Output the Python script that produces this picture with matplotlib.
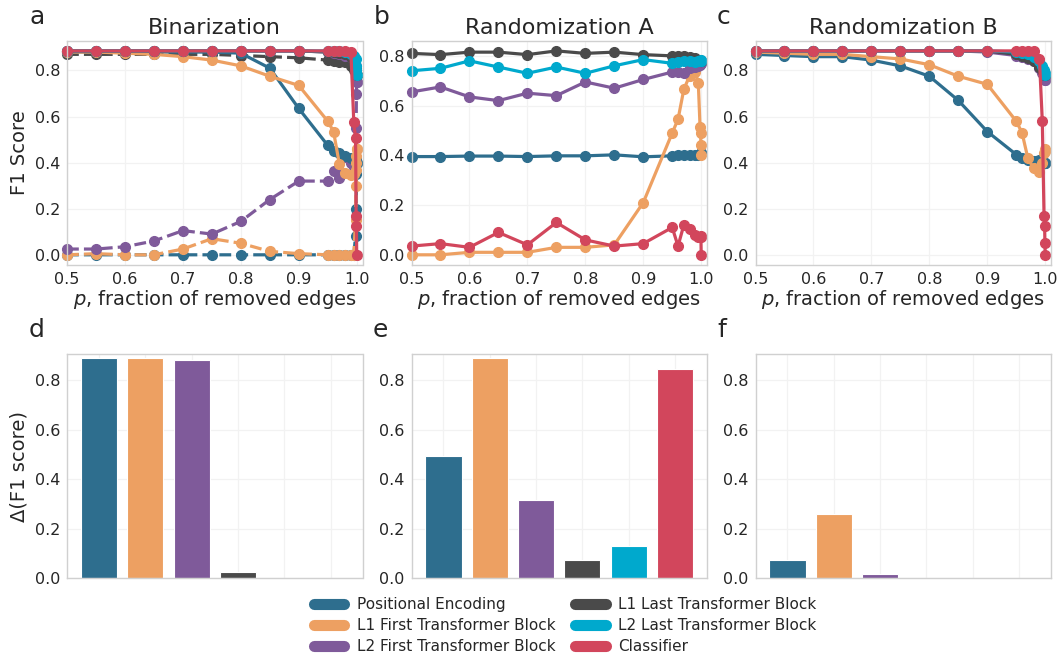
import matplotlib
matplotlib.use("Agg")
import matplotlib.pyplot as plt
from matplotlib.lines import Line2D

# ---------------- data ----------------
layers = ["Positional Encoding", "L1 First Transformer Block", "L2 First Transformer Block",
          "L1 Last Transformer Block", "L2 Last Transformer Block", "Classifier"]
colors = ["#2e6e8e", "#eda062", "#7f5a9a", "#4a4a4a", "#00a9cd", "#d2465c"]

p = [0.5, 0.55, 0.6, 0.65, 0.7, 0.75, 0.8, 0.85, 0.9, 0.95,
     0.96, 0.97, 0.98, 0.99, 0.995, 0.998, 0.999, 0.9995, 1.0]

# Panel a: Binarization (solid)
a_pe = [0.88, 0.88, 0.88, 0.88, 0.88, 0.88, 0.875, 0.81, 0.635, 0.475, 0.45, 0.44, 0.43, 0.42, 0.42, 0.41, 0.40, 0.40, 0.40]
a_l1f = [0.88, 0.88, 0.875, 0.87, 0.86, 0.845, 0.82, 0.775, 0.735, 0.58, 0.535, 0.395, 0.355, 0.345, 0.35, 0.37, 0.40, 0.43, 0.46]
a_l2f = [0.885, 0.885, 0.885, 0.885, 0.885, 0.885, 0.885, 0.885, 0.885, 0.88, 0.875, 0.87, 0.865, 0.86, 0.84, 0.82, 0.80, 0.77, 0.75]
a_l1l = [0.885, 0.885, 0.885, 0.885, 0.885, 0.885, 0.885, 0.885, 0.885, 0.88, 0.88, 0.875, 0.87, 0.86, 0.83, 0.81, 0.80, 0.79, 0.78]
a_l2l = [0.885, 0.885, 0.885, 0.885, 0.885, 0.885, 0.885, 0.885, 0.885, 0.885, 0.885, 0.885, 0.88, 0.87, 0.865, 0.85, 0.82, 0.80, 0.78]
a_cls = [0.885, 0.885, 0.885, 0.885, 0.885, 0.885, 0.885, 0.885, 0.885, 0.885, 0.885, 0.885, 0.885, 0.88, 0.575, 0.505, 0.17, 0.125, 0.0]
# Panel a: Binarization (dashed)
a_pe_d = [0.0, 0.0, 0.0, 0.0, 0.0, 0.0, 0.0, 0.0, 0.0, 0.0, 0.0, 0.0, 0.0, 0.0, 0.0, 0.08, 0.2, 0.35, 0.40]
a_l1f_d = [0.0, 0.005, 0.0, 0.0, 0.025, 0.07, 0.05, 0.015, 0.005, 0.0, 0.0, 0.0, 0.0, 0.0, 0.0, 0.15, 0.3, 0.42, 0.46]
a_l2f_d = [0.025, 0.025, 0.035, 0.06, 0.105, 0.09, 0.145, 0.24, 0.32, 0.32, 0.365, 0.335, 0.425, 0.40, 0.38, 0.40, 0.55, 0.70, 0.75]
a_l1l_d = [0.87, 0.87, 0.87, 0.87, 0.87, 0.87, 0.865, 0.86, 0.855, 0.845, 0.84, 0.835, 0.835, 0.82, 0.80, 0.80, 0.79, 0.78, 0.78]

# Panel b: Randomization A
b_pe = [0.395, 0.395, 0.397, 0.397, 0.395, 0.398, 0.398, 0.402, 0.394, 0.398, 0.40, 0.40, 0.40, 0.40, 0.40, 0.405, 0.41, 0.41, 0.41]
b_l1f = [0.0, 0.0, 0.01, 0.01, 0.01, 0.03, 0.03, 0.04, 0.21, 0.49, 0.545, 0.665, 0.72, 0.735, 0.69, 0.515, 0.49, 0.44, 0.40]
b_l2f = [0.655, 0.675, 0.635, 0.62, 0.65, 0.64, 0.695, 0.67, 0.705, 0.735, 0.735, 0.73, 0.75, 0.755, 0.76, 0.765, 0.77, 0.77, 0.77]
b_l1l = [0.81, 0.805, 0.815, 0.815, 0.805, 0.82, 0.81, 0.815, 0.805, 0.80, 0.80, 0.80, 0.795, 0.79, 0.785, 0.785, 0.78, 0.78, 0.78]
b_l2l = [0.74, 0.75, 0.78, 0.755, 0.73, 0.755, 0.73, 0.76, 0.785, 0.77, 0.775, 0.78, 0.78, 0.775, 0.78, 0.78, 0.785, 0.78, 0.78]
b_cls = [0.035, 0.045, 0.03, 0.09, 0.04, 0.13, 0.06, 0.035, 0.045, 0.11, 0.035, 0.12, 0.105, 0.08, 0.07, 0.07, 0.075, 0.07, 0.0]

# Panel c: Randomization B
c_pe = [0.87, 0.865, 0.86, 0.86, 0.845, 0.82, 0.775, 0.67, 0.535, 0.435, 0.42, 0.41, 0.405, 0.41, 0.405, 0.40, 0.40, 0.40, 0.40]
c_l1f = [0.88, 0.875, 0.87, 0.87, 0.86, 0.85, 0.825, 0.775, 0.74, 0.58, 0.53, 0.42, 0.375, 0.36, 0.40, 0.44, 0.46, 0.45, 0.45]
c_l2f = [0.885, 0.885, 0.885, 0.885, 0.885, 0.885, 0.885, 0.885, 0.88, 0.865, 0.86, 0.85, 0.84, 0.81, 0.79, 0.78, 0.77, 0.76, 0.76]
c_l1l = [0.885, 0.885, 0.885, 0.885, 0.885, 0.885, 0.885, 0.885, 0.885, 0.87, 0.865, 0.855, 0.84, 0.815, 0.80, 0.79, 0.785, 0.78, 0.78]
c_l2l = [0.885, 0.885, 0.885, 0.885, 0.885, 0.885, 0.885, 0.885, 0.885, 0.88, 0.875, 0.87, 0.86, 0.84, 0.82, 0.80, 0.79, 0.785, 0.78]
c_cls = [0.885, 0.885, 0.885, 0.885, 0.885, 0.885, 0.885, 0.885, 0.885, 0.885, 0.885, 0.885, 0.885, 0.85, 0.58, 0.17, 0.125, 0.05, 0.0]

# Bar panels: Δ(F1 score)
d_vals = [0.887, 0.887, 0.879, 0.024, 0.0, 0.0]
e_vals = [0.493, 0.887, 0.314, 0.074, 0.130, 0.844]
f_vals = [0.074, 0.258, 0.016, 0.0, 0.0, 0.0]

titles = ["Binarization", "Randomization A", "Randomization B"]
panel_letters = ["a", "b", "c", "d", "e", "f"]

# ---------------- style ----------------
TXT = "#262626"
plt.rcParams.update({
    "font.family": "DejaVu Sans",
    "text.color": TXT,
    "axes.labelcolor": TXT,
    "xtick.color": TXT,
    "ytick.color": TXT,
    "axes.edgecolor": "#d0d0d0",
    "axes.linewidth": 1.0,
    "xtick.labelsize": 11.5,
    "ytick.labelsize": 11.5,
})

fig = plt.figure(figsize=(10.58, 6.56), dpi=100)
W, H = 1058, 656
lefts = [67, 411.5, 755.5]
aw = 295.5
top_rows = (40.7, 265)
bot_rows = (354, 578.3)


def add_ax(lx, row):
    t, b = row
    return fig.add_axes([lx / W, 1 - b / H, aw / W, (b - t) / H])


def style(ax):
    ax.set_facecolor("white")
    ax.grid(True, color="#f2f2f2", linewidth=0.9)
    ax.set_axisbelow(True)
    for s in ax.spines.values():
        s.set_color("#d0d0d0")
    ax.tick_params(length=0, pad=5)


lw = 2.3
ms = 7

top_axes = [add_ax(lx, top_rows) for lx in lefts]
bot_axes = [add_ax(lx, bot_rows) for lx in lefts]

# Panel a
ax = top_axes[0]
for ys, c in zip([a_pe_d, a_l1f_d, a_l2f_d, a_l1l_d], colors[:4]):
    ax.plot(p, ys, "--", color=c, lw=lw, marker="o", ms=ms, clip_on=False)
for ys, c in zip([a_pe, a_l1f, a_l2f, a_l1l, a_l2l, a_cls], colors):
    ax.plot(p, ys, "-", color=c, lw=lw, marker="o", ms=ms, clip_on=False)

# Panel b
ax = top_axes[1]
for ys, c in zip([b_pe, b_l1f, b_l2f, b_l1l, b_l2l, b_cls], colors):
    ax.plot(p, ys, "-", color=c, lw=lw, marker="o", ms=ms, clip_on=False)

# Panel c
ax = top_axes[2]
for ys, c in zip([c_pe, c_l1f, c_l2f, c_l1l, c_l2l, c_cls], colors):
    ax.plot(p, ys, "-", color=c, lw=lw, marker="o", ms=ms, clip_on=False)

for i, ax in enumerate(top_axes):
    style(ax)
    ax.set_xlim(0.5, 1.01)
    ax.set_xticks([0.5, 0.6, 0.7, 0.8, 0.9, 1.0])
    ax.set_yticks([0.0, 0.2, 0.4, 0.6, 0.8])
    ax.set_title(titles[i], fontsize=16, pad=5, color=TXT)
    ax.set_xlabel("$p$, fraction of removed edges", fontsize=14, labelpad=1)
top_axes[0].set_ylabel("F1 Score", fontsize=14)

xpos = list(range(len(layers)))
for ax, vals in zip(bot_axes, [d_vals, e_vals, f_vals]):
    ax.bar(xpos, vals, width=0.78, color=colors, edgecolor="white", linewidth=0.8)
    style(ax)
    ax.set_xlim(-0.69, 5.69)
    ax.set_ylim(0, 0.905)
    ax.set_xticks(xpos)
    ax.set_xticklabels([])
    ax.set_yticks([0.0, 0.2, 0.4, 0.6, 0.8])
bot_axes[0].set_ylabel("Δ(F1 score)", fontsize=14)

# panel letters
letter_pos = [(37, 17), (382, 17), (724, 17), (37, 330), (380, 330), (722, 330)]
for (x, y), l in zip(letter_pos, panel_letters):
    fig.text(x / W, 1 - y / H, l, fontsize=18, ha="center", va="center", color=TXT)

handles = [Line2D([0], [0], color=c, lw=8, solid_capstyle="round") for c in colors]
fig.legend(handles, layers, loc="center", bbox_to_anchor=(565 / W, 1 - 625.5 / H), ncol=2,
           frameon=False, fontsize=11, handlelength=2.0, handletextpad=0.8,
           columnspacing=1.3, labelspacing=0.4)

fig.savefig("out.png", dpi=100)
